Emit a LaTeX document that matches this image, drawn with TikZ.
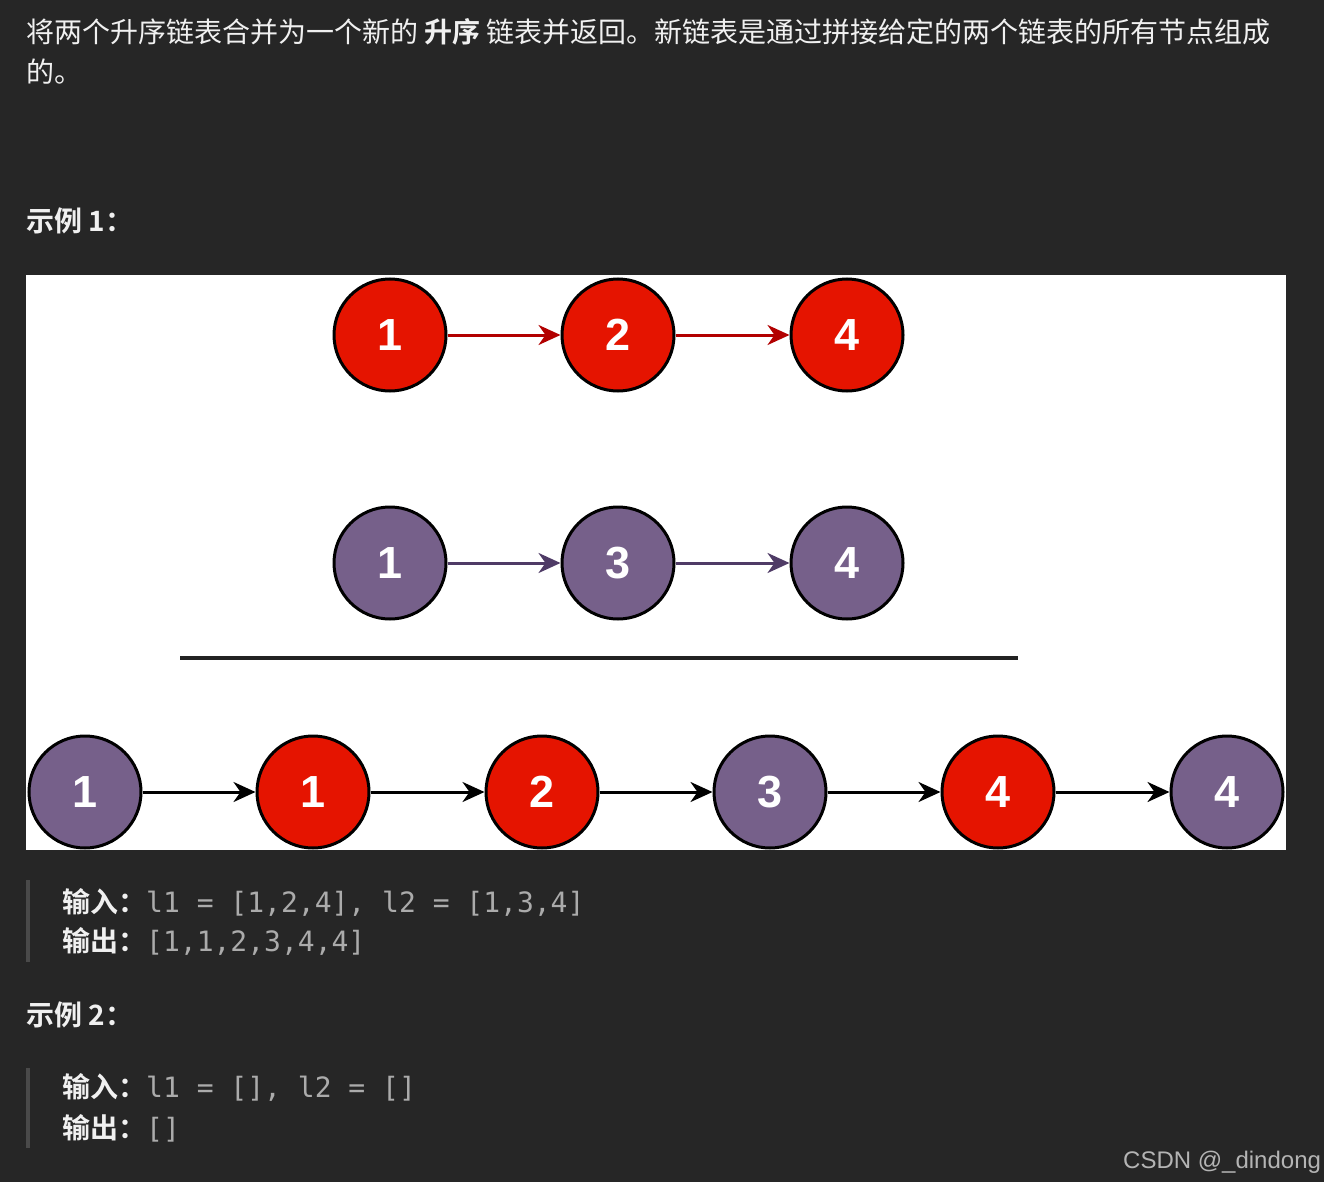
\documentclass[tikz,border=0pt]{standalone}
\usepackage{fontspec}
\setmainfont{Liberation Sans}
\newfontfamily\cjk[BoldFont={Noto Sans CJK SC Bold}]{Noto Sans CJK SC}
\newfontfamily\codefont{DejaVu Sans Mono}
\usetikzlibrary{arrows.meta}
\definecolor{bgcol}{HTML}{262626}
\definecolor{nodered}{HTML}{E51400}
\definecolor{nodepurple}{HTML}{76608A}
\definecolor{linkred}{HTML}{B20000}
\definecolor{linkpurple}{HTML}{4F3B66}
\definecolor{textcol}{HTML}{F0F0F0}
\definecolor{codecol}{HTML}{ABABAB}
\definecolor{barcol}{HTML}{4A4A4A}
\definecolor{rulecol}{HTML}{222222}
\definecolor{markcol}{HTML}{B4B4B4}
\tikzset{
  listnode/.style={circle, draw=black, line width=3pt, minimum size=112pt, inner sep=0pt,
    font=\fontsize{45}{45}\selectfont\bfseries, text=white},
  rednode/.style={listnode, fill=nodered},
  purplenode/.style={listnode, fill=nodepurple},
  link/.style={line width=3pt, -{Stealth[length=22pt,width=20pt,inset=7pt]}},
  txt/.style={inner sep=0pt, anchor=base west, text=textcol, font=\cjk\fontsize{28}{40}\selectfont},
  code/.style={txt},
}
\begin{document}
\begin{tikzpicture}[x=1pt,y=-1pt]
\fill[bgcol] (0,0) rectangle (1324,1182);
\useasboundingbox (0,0) rectangle (1324,1182);
\fill[white] (26,275) rectangle (1286,850);

% intro text
\node[txt] (intro1) at (26,43) {将两个升序链表合并为一个新的 \textbf{升序} 链表并返回。新链表是通过拼接给定的两个链表的所有节点组成};
\node[txt] (intro2) at (26,83) {的。};
\node[txt] (ex1) at (26,232) {\textbf{示例 1：}};

% list 1
\node[rednode] (a1) at (390,335) {1};
\node[rednode] (a2) at (618,335) {2};
\node[rednode] (a3) at (847,335) {4};
\draw[link, linkred] (a1) -- (a2);
\draw[link, linkred] (a2) -- (a3);

% list 2
\node[purplenode] (b1) at (390,563) {1};
\node[purplenode] (b2) at (618,563) {3};
\node[purplenode] (b3) at (847,563) {4};
\draw[link, linkpurple] (b1) -- (b2);
\draw[link, linkpurple] (b2) -- (b3);

% rule
\coordinate (r1) at (180,658);
\coordinate (r2) at (1018,658);
\draw[rulecol, line width=4pt] (r1) -- (r2);

% merged list
\node[purplenode] (c1) at (85,792) {1};
\node[rednode]    (c2) at (313,792) {1};
\node[rednode]    (c3) at (542,792) {2};
\node[purplenode] (c4) at (770,792) {3};
\node[rednode]    (c5) at (998,792) {4};
\node[purplenode] (c6) at (1227,792) {4};
\foreach \i/\j in {c1/c2,c2/c3,c3/c4,c4/c5,c5/c6} \draw[link, black] (\i) -- (\j);

% example 1 code
\fill[barcol] (26,880) rectangle (30,962);
\node[code] (in1) at (62,912) {\textbf{输入：}\codefont\color{codecol}l1 = [1,2,4], l2 = [1,3,4]};
\node[code] (out1) at (62,951) {\textbf{输出：}\codefont\color{codecol}[1,1,2,3,4,4]};

% example 2
\node[txt] (ex2) at (26,1025) {\textbf{示例 2：}};
\fill[barcol] (26,1068) rectangle (30,1148);
\node[code] (in2) at (62,1097) {\textbf{输入：}\codefont\color{codecol}l1 = [], l2 = []};
\node[code] (out2) at (62,1138) {\textbf{输出：}\codefont\color{codecol}[]};

\node[inner sep=0pt, anchor=base west, text=markcol, font=\fontsize{24}{24}\selectfont] (mark) at (1123,1168) {CSDN @\_dindong};
\end{tikzpicture}
\end{document}
